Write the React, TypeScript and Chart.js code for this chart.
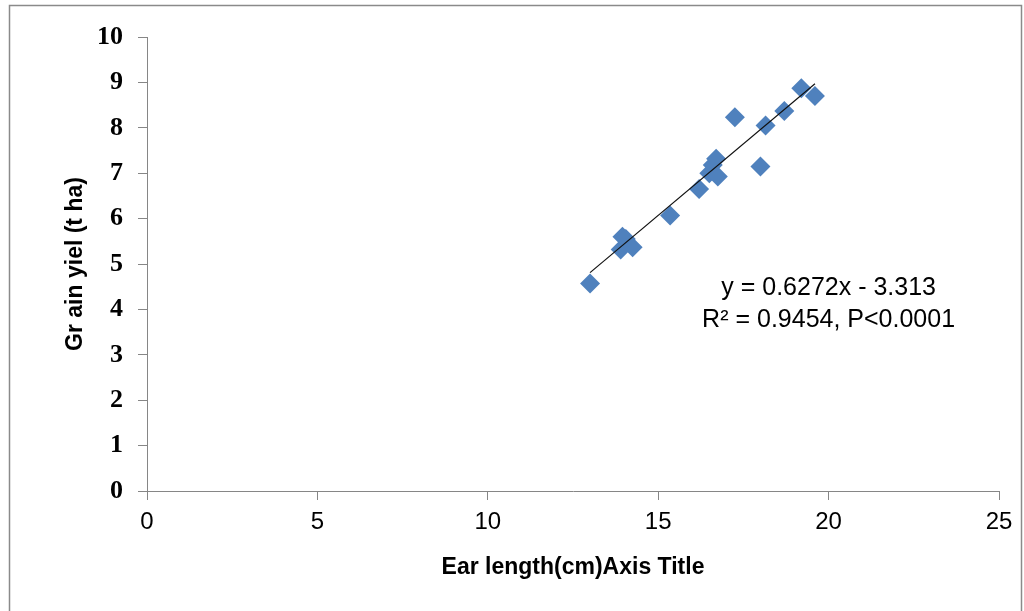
import React, { useEffect, useRef } from "react";
import { Chart, registerables } from "chart.js";

Chart.register(...registerables);

// Observations: ear length (cm) vs grain yield (t/ha)
const earLength = [13.0, 13.9, 13.95, 14.05, 14.25, 15.35, 16.2, 16.5, 16.6, 16.7, 16.75, 17.25, 18.0, 18.15, 18.7, 19.2, 19.6];
const grainYield = [4.57, 5.32, 5.6, 5.55, 5.37, 6.07, 6.65, 7.0, 7.18, 7.32, 6.93, 8.23, 7.15, 8.05, 8.37, 8.87, 8.7];

// Linear trendline end points as seen in the picture
const trendX = [13.0, 19.6];
const trendY = [4.81, 8.97];

const xTicks = [0, 5, 10, 15, 20, 25];
const yTicks = [0, 1, 2, 3, 4, 5, 6, 7, 8, 9, 10];

const xTitle = "Ear length(cm)Axis Title";
const yTitle = "Gr ain yiel (t ha)";
const equationLines = ["y = 0.6272x - 3.313", "R\u00B2 = 0.9454, P<0.0001"];

const SANS = "'Liberation Sans', Arial, sans-serif";
const SERIF = "'Liberation Serif', 'Times New Roman', serif";
const AXIS_GREY = "#868686";

const framePlugin = {
  id: "frame",
  beforeDraw(chart: any) {
    const { ctx, width, height } = chart;
    ctx.save();
    ctx.fillStyle = "#ffffff";
    ctx.fillRect(0, 0, width, height);
    ctx.strokeStyle = "#8a8a8a";
    ctx.lineWidth = 1.5;
    ctx.strokeRect(9.5, 5.5, width - 12, height + 10);
    ctx.restore();
  },
};

const equationPlugin = {
  id: "equation",
  afterDatasetsDraw(chart: any) {
    const { ctx, scales } = chart;
    const cx = scales.x.getPixelForValue(20);
    const cy = scales.y.getPixelForValue(4.12);
    ctx.save();
    ctx.fillStyle = "#000";
    ctx.font = `25px ${SANS}`;
    ctx.textAlign = "center";
    ctx.textBaseline = "middle";
    const lh = 32;
    equationLines.forEach((t, i) => {
      ctx.fillText(t, cx, cy + (i - (equationLines.length - 1) / 2) * lh);
    });
    ctx.restore();
  },
};

export default function App() {
  const ref = useRef<HTMLCanvasElement>(null);

  useEffect(() => {
    document.body.style.margin = "0";
    const canvas = ref.current;
    if (!canvas) return;
    const chart = new Chart(canvas, {
      type: "scatter",
      data: {
        datasets: [
          {
            type: "line",
            label: "Linear",
            data: trendX.map((x, i) => ({ x, y: trendY[i] })),
            borderColor: "#111111",
            borderWidth: 1.2,
            pointRadius: 0,
            fill: false,
            order: 0,
          } as any,
          {
            type: "scatter",
            label: "Grain yield",
            data: earLength.map((x, i) => ({ x, y: grainYield[i] })),
            pointStyle: "rectRot",
            pointRadius: 10,
            backgroundColor: "#4F81BD",
            borderColor: "#4F81BD",
            borderWidth: 0,
            order: 1,
          } as any,
        ],
      },
      options: {
        responsive: false,
        animation: false,
        devicePixelRatio: 1,
        layout: { padding: { left: 9, top: 37, right: 25, bottom: 0 } },
        plugins: {
          legend: { display: false },
          tooltip: { enabled: false },
        },
        scales: {
          x: {
            type: "linear",
            min: xTicks[0],
            max: xTicks[xTicks.length - 1],
            afterBuildTicks: (axis: any) => {
              axis.ticks = xTicks.map((v) => ({ value: v }));
            },
            afterFit: (axis: any) => {
              axis.height = 120;
            },
            grid: {
              display: true,
              drawOnChartArea: false,
              drawTicks: true,
              tickLength: 9,
              color: AXIS_GREY,
            },
            border: { display: true, color: AXIS_GREY, width: 1 },
            ticks: {
              color: "#000",
              font: { family: SANS, size: 24 },
              padding: 8,
              maxRotation: 0,
              autoSkip: false,
            },
            title: {
              display: true,
              text: xTitle,
              color: "#000",
              font: { family: SANS, size: 23, weight: "bold" },
              padding: { top: 0, bottom: 30 },
            },
          },
          y: {
            type: "linear",
            min: yTicks[0],
            max: yTicks[yTicks.length - 1],
            afterBuildTicks: (axis: any) => {
              axis.ticks = yTicks.map((v) => ({ value: v }));
            },
            afterFit: (axis: any) => {
              axis.width = 138;
            },
            grid: {
              display: true,
              drawOnChartArea: false,
              drawTicks: true,
              tickLength: 9,
              color: AXIS_GREY,
            },
            border: { display: true, color: AXIS_GREY, width: 1 },
            ticks: {
              color: "#000",
              font: { family: SERIF, size: 26, weight: "bold" },
              padding: 15,
              autoSkip: false,
            },
            title: {
              display: true,
              text: yTitle,
              color: "#000",
              font: { family: SANS, size: 23, weight: "bold" },
              padding: { top: 53, bottom: 0 },
            },
          },
        },
      } as any,
      plugins: [framePlugin, equationPlugin],
    });
    return () => chart.destroy();
  }, []);

  return (
    <div style={{ width: 1024, height: 611 }}>
      <canvas ref={ref} width={1024} height={611} style={{ display: "block" }} />
    </div>
  );
}
